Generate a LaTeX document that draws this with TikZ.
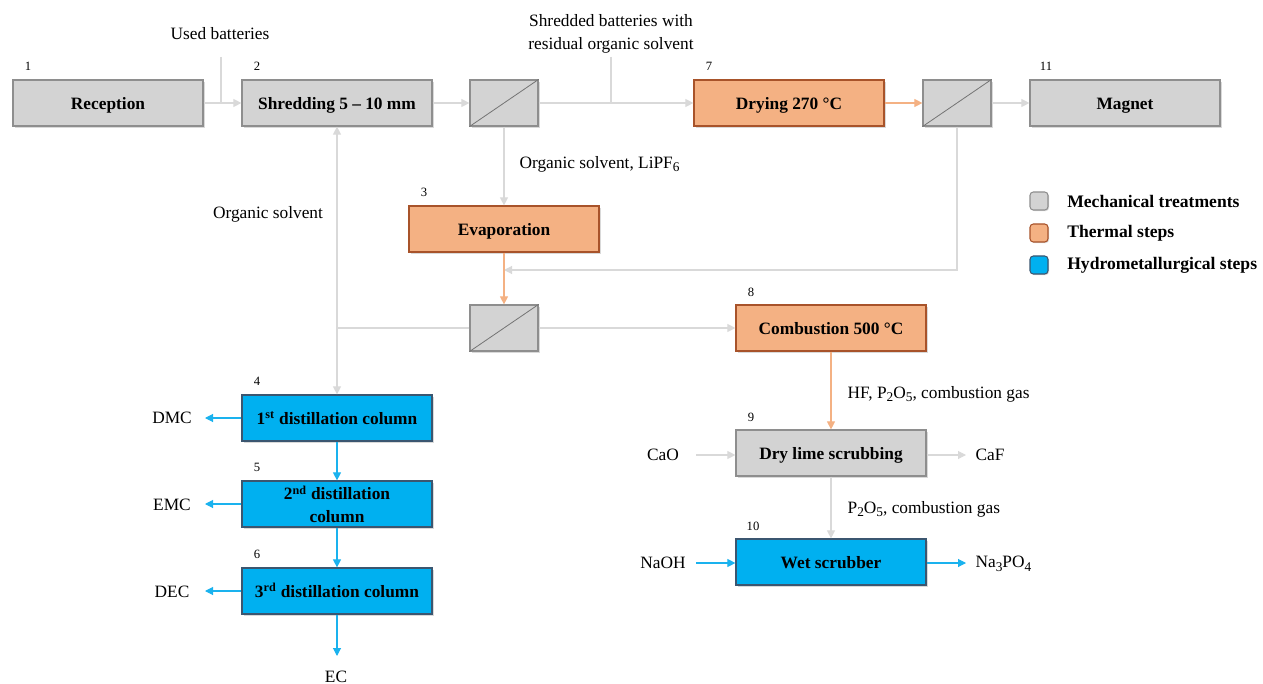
\documentclass[tikz,border=0pt]{standalone}
\usepackage{fontspec}
\setmainfont{Liberation Serif}
\usetikzlibrary{arrows.meta,shadows}

\definecolor{mechfill}{HTML}{D3D3D3}
\definecolor{mechline}{HTML}{8E8E8E}
\definecolor{thermfill}{HTML}{F4B183}
\definecolor{thermline}{HTML}{A8532A}
\definecolor{hydrofill}{HTML}{00B0F0}
\definecolor{hydroline}{HTML}{3B5670}
\definecolor{flowgray}{HTML}{D9D9D9}
\definecolor{floworange}{HTML}{F4B183}
\definecolor{flowblue}{HTML}{1AB2EE}

% lowered, slightly enlarged subscript for chemical formulae
\newcommand{\chemsub}[1]{\raisebox{-0.45ex}{\fontsize{10}{12}\selectfont #1}}

\tikzset{
  txt/.style={font=\fontsize{13}{15}\selectfont, inner sep=1pt},
  num/.style={font=\fontsize{9.5}{11}\selectfont, inner sep=0pt},
  box/.style={draw, line width=0.9pt, minimum width=142.5pt, minimum height=34.5pt,
    inner sep=2pt, align=center, font=\fontsize{13}{15}\selectfont\bfseries,
    text height=12pt, text depth=2pt,
    drop shadow={shadow xshift=1.2pt, shadow yshift=-1.2pt, opacity=0.25, fill=black!60}},
  mech/.style={box, fill=mechfill, draw=mechline},
  therm/.style={box, fill=thermfill, draw=thermline},
  hydro/.style={box, fill=hydrofill, draw=hydroline},
  sepbox/.style={mech, minimum width=51pt, inner sep=0pt},
  flow/.style={line width=0.8pt},
  garr/.style={flow, draw=flowgray, -{Triangle[length=6pt,width=6pt]}},
  oarr/.style={flow, draw=floworange, -{Triangle[length=6pt,width=6pt]}},
  barr/.style={flow, draw=flowblue, -{Triangle[length=6pt,width=6pt]}},
  gline/.style={flow, draw=flowgray},
  key/.style={draw, line width=0.8pt, rounded corners=2.5pt, minimum width=13.5pt, minimum height=13.5pt, inner sep=0pt,
    drop shadow={shadow xshift=0.8pt, shadow yshift=-0.8pt, opacity=0.25, fill=black!60}},
  keytxt/.style={font=\fontsize{13.2}{15}\selectfont\bfseries, anchor=west, inner sep=0pt}
}

\begin{document}
\begin{tikzpicture}[x=0.75pt,y=-0.75pt]
\useasboundingbox (0,0) rectangle (1263,684);

% process boxes
\node[mech]  (rec) at (108,103) {Reception};
\node[mech]  (shr) at (337,103) {Shredding 5 -- 10 mm};
\node[sepbox] (sa) at (504,103) {};
\node[therm] (dry) at (789,103) {Drying 270 °C};
\node[sepbox] (sb) at (957,103) {};
\node[mech]  (mag) at (1125,103) {Magnet};
\node[therm] (eva) at (504,229) {Evaporation};
\node[sepbox] (sc) at (504,328) {};
\node[therm] (com) at (831,328) {Combustion 500 °C};
\node[hydro] (d1) at (337,418) {1\textsuperscript{st} distillation column};
\node[hydro, font=\fontsize{13}{17}\selectfont\bfseries, text height=, text depth=] (d2) at (337,504)
  {\rule{0pt}{11pt}2\textsuperscript{nd} distillation\\column};
\node[hydro] (d3) at (337,591) {3\textsuperscript{rd} distillation column};
\node[mech]  (dls) at (831,453) {Dry lime scrubbing};
\node[hydro] (wet) at (831,562) {Wet scrubber};

% separator diagonals
\foreach \s in {sa,sb,sc}
  \draw[draw=black!55, line width=0.6pt] (\s.south west) -- (\s.north east);

% step numbers
\node[num] (n1)  at (28,66)   {1};
\node[num] (n2)  at (257,66)  {2};
\node[num] (n7)  at (709,66)  {7};
\node[num] (n11) at (1046,66) {11};
\node[num] (n3)  at (424,192) {3};
\node[num] (n8)  at (751,292) {8};
\node[num] (n4)  at (257,381) {4};
\node[num] (n5)  at (257,467) {5};
\node[num] (n6)  at (257,554) {6};
\node[num] (n9)  at (751,417) {9};
\node[num] (n10) at (753,526) {10};

% stream labels
\node[txt] (lub) at (220,34) {Used batteries};
\node[txt, align=center, font=\fontsize{13}{17}\selectfont] (lsb) at (611,34) {Shredded batteries with\\residual organic solvent};
\node[txt, anchor=west] (los) at (518,164) {Organic solvent, LiPF\chemsub{6}};
\node[txt] (lorg) at (268,214) {Organic solvent};
\node[txt, anchor=west] (lhf) at (846,394) {HF, P\chemsub{2}O\chemsub{5}, combustion gas};
\node[txt, anchor=west] (lpo) at (846,509) {P\chemsub{2}O\chemsub{5}, combustion gas};
\node[txt] (dmc) at (172,418) {DMC};
\node[txt] (emc) at (172,505) {EMC};
\node[txt] (dec) at (172,592) {DEC};
\node[txt] (ec)  at (336,677) {EC};
\node[txt] (cao) at (663,455) {CaO};
\node[txt] (caf) at (990,455) {CaF};
\node[txt] (naoh) at (663,563) {NaOH};
\node[txt, anchor=west] (nap) at (974,564) {Na\chemsub{3}PO\chemsub{4}};

% junction points
\coordinate (ub) at (221,57);
\coordinate (sbj) at (611,57);
\coordinate (ret) at (504,270);
\coordinate (j) at (337,328);
\coordinate (caoS) at (696,455);
\coordinate (cafE) at (966,455);
\coordinate (naS) at (696,563);
\coordinate (naE) at (966,563);
\coordinate (dmcE) at (205,418);
\coordinate (emcE) at (205,504);
\coordinate (decE) at (205,591);
\coordinate (ecE) at (337,656);

% mechanical line
\draw[garr] (rec) -- (shr);
\draw[gline] (ub) -- (ub |- rec.east);
\draw[garr] (shr) -- (sa);
\draw[garr] (sa) -- (dry);
\draw[gline] (sbj) -- (sbj |- sa.east);
\draw[oarr] (dry) -- (sb);
\draw[garr] (sb) -- (mag);
\draw[garr] (sa.south) -- (eva.north);
\draw[garr] (sb.south) |- (ret);
\draw[oarr] (eva.south) -- (sc.north);
\draw[garr] (sc) -- (com);
\draw[gline] (sc.west) -- (j);
\draw[garr] (j) -- (shr.south);
\draw[garr] (j) -- (d1.north);

% distillation train
\draw[barr] (d1) -- (d2);
\draw[barr] (d2) -- (d3);
\draw[barr] (d3) -- (ecE);
\draw[barr] (d1.west) -- (dmcE);
\draw[barr] (d2.west) -- (emcE);
\draw[barr] (d3.west) -- (decE);

% gas cleaning
\draw[oarr] (com) -- (dls);
\draw[garr] (caoS) -- (dls.west |- caoS);
\draw[garr] (dls.east |- cafE) -- (cafE);
\draw[garr] (dls) -- (wet);
\draw[barr] (naS) -- (wet.west |- naS);
\draw[barr] (wet.east |- naE) -- (naE);

% legend
\node[key, fill=mechfill, draw=mechline]   (k1) at (1039,201) {};
\node[key, fill=thermfill, draw=thermline] (k2) at (1039,233) {};
\node[key, fill=hydrofill, draw=hydroline] (k3) at (1039,265) {};
\node[keytxt] (t1) at (1067,201) {Mechanical treatments};
\node[keytxt] (t2) at (1067,233) {Thermal steps};
\node[keytxt] (t3) at (1067,265) {Hydrometallurgical steps};
\end{tikzpicture}
\end{document}
